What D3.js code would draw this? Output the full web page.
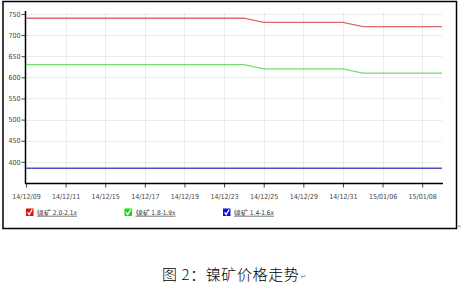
<!DOCTYPE html>
<html>
<head>
<meta charset="utf-8">
<script src="https://cdn.jsdelivr.net/npm/d3@7"></script>
<style>
  body { margin: 0; background: #fff; }
  svg { display: block; }
</style>
</head>
<body>
<svg id="chart" width="461" height="285"></svg>
<script>
// trading days, one label every second day
const dates = ["14/12/09","14/12/10","14/12/11","14/12/12","14/12/15","14/12/16","14/12/17",
    "14/12/18","14/12/19","14/12/22","14/12/23","14/12/24","14/12/25","14/12/26","14/12/29",
    "14/12/30","14/12/31","15/01/05","15/01/06","15/01/07","15/01/08","15/01/09"];
const red_vals = [740,740,740,740,740,740,740,740,740,740,740,740,730,730,730,730,730,720,720,720,720,720];
const green_vals = [630,630,630,630,630,630,630,630,630,630,630,630,620,620,620,620,620,610,610,610,610,610];
const blue_vals = [385,385,385,385,385,385,385,385,385,385,385,385,385,385,385,385,385,385,385,385,385,385];
const y_ticks = [400,450,500,550,600,650,700,750];
const series_names = ["镍矿 2.0-2.1x", "镍矿 1.8-1.9x", "镍矿 1.4-1.6x"];
const series_colors = ["#dd6a6a", "#6fe06f", "#4f4fbf"];
const box_colors = ["#e01010", "#10e010", "#1010e0"];
const caption = "图 2：镍矿价格走势";

const svg = d3.select("#chart");
const font = "'Liberation Sans Narrow', 'DejaVu Sans Condensed', sans-serif";

// outer frame
svg.append("rect")
    .attr("x", 3).attr("y", 1.5)
    .attr("width", 453.5).attr("height", 227)
    .attr("fill", "none")
    .attr("stroke", "#000")
    .attr("stroke-width", 1.5);

const x = d3.scalePoint().domain(dates).range([26, 442]);
const y = d3.scaleLinear().domain([350, 757]).range([183, 11]);
const x_ticks = dates.filter((d, i) => i % 2 == 0);

// grid
const grid = svg.append("g")
    .attr("stroke", "#ebebeb")
    .attr("stroke-width", 1);
grid.selectAll("line.h")
    .data(y_ticks)
    .enter().append("line")
    .attr("x1", 26).attr("x2", 442)
    .attr("y1", d => Math.round(y(d)) + 0.5)
    .attr("y2", d => Math.round(y(d)) + 0.5);
grid.selectAll("line.v")
    .data(x_ticks.slice(1))
    .enter().append("line")
    .attr("x1", d => Math.round(x(d)) + 0.5)
    .attr("x2", d => Math.round(x(d)) + 0.5)
    .attr("y1", 12).attr("y2", 183);

// axes
const yAxis = svg.append("g")
    .attr("transform", "translate(25.5,0)")
    .call(d3.axisLeft(y).tickValues(y_ticks).tickSize(4).tickPadding(1));
yAxis.select(".domain").remove();
yAxis.selectAll("text")
    .attr("font-family", font)
    .attr("font-size", 7)
    .attr("fill", "#444");
yAxis.selectAll(".tick line").attr("stroke", "#444");

const xAxis = svg.append("g")
    .attr("transform", "translate(0,183.5)")
    .call(d3.axisBottom(x).tickValues(x_ticks).tickSize(4).tickPadding(7));
xAxis.select(".domain").remove();
xAxis.selectAll("text")
    .attr("font-family", font)
    .attr("font-size", 7)
    .attr("fill", "#444");
xAxis.selectAll(".tick line").attr("stroke", "#444");

svg.append("line")
    .attr("x1", 25.5).attr("x2", 25.5)
    .attr("y1", 11).attr("y2", 184)
    .attr("stroke", "#000").attr("stroke-width", 1.5);
svg.append("line")
    .attr("x1", 25).attr("x2", 443)
    .attr("y1", 183.5).attr("y2", 183.5)
    .attr("stroke", "#000").attr("stroke-width", 1.5);

// lines
const line = d3.line()
    .x((d, i) => x(dates[i]))
    .y(d => y(d));
[red_vals, green_vals, blue_vals].forEach((vals, k) => {
    svg.append("path")
        .datum(vals)
        .attr("fill", "none")
        .attr("stroke", series_colors[k])
        .attr("stroke-width", 1.4)
        .attr("d", line);
});

// legend
const legend_x = [26, 124.5, 223];
const lg = svg.selectAll("g.legend")
    .data(series_names)
    .enter().append("g")
    .attr("class", "legend")
    .attr("transform", (d, i) => `translate(${legend_x[i]},208.5)`);
lg.append("rect")
    .attr("width", 7.5).attr("height", 7.5)
    .attr("fill", (d, i) => box_colors[i]);
lg.append("path")
    .attr("d", "M1.6,3.8 L3.2,6 L6.2,1")
    .attr("fill", "none")
    .attr("stroke", "#fff")
    .attr("stroke-width", 1.3);
lg.append("text")
    .attr("x", 11)
    .attr("y", 6.3)
    .attr("font-family", font)
    .attr("font-size", 6.5)
    .attr("fill", "#333")
    .attr("text-decoration", "underline")
    .text(d => d);

// caption
svg.append("text")
    .attr("x", 162)
    .attr("y", 280)
    .attr("font-family", "'Noto Sans CJK SC', sans-serif")
    .attr("font-size", 15)
    .attr("font-weight", 300)
    .attr("letter-spacing", 0.6)
    .style("white-space", "pre")
    .attr("fill", "#000")
    .text(caption);
svg.append("text")
    .attr("x", 300.5)
    .attr("y", 279)
    .attr("font-family", "'DejaVu Sans', sans-serif")
    .attr("font-size", 7)
    .attr("fill", "#888")
    .text("↵");
svg.append("text")
    .attr("x", 457.5)
    .attr("y", 228)
    .attr("font-family", "'DejaVu Sans', sans-serif")
    .attr("font-size", 5)
    .attr("fill", "#888")
    .text("↵");
</script>
</body>
</html>
